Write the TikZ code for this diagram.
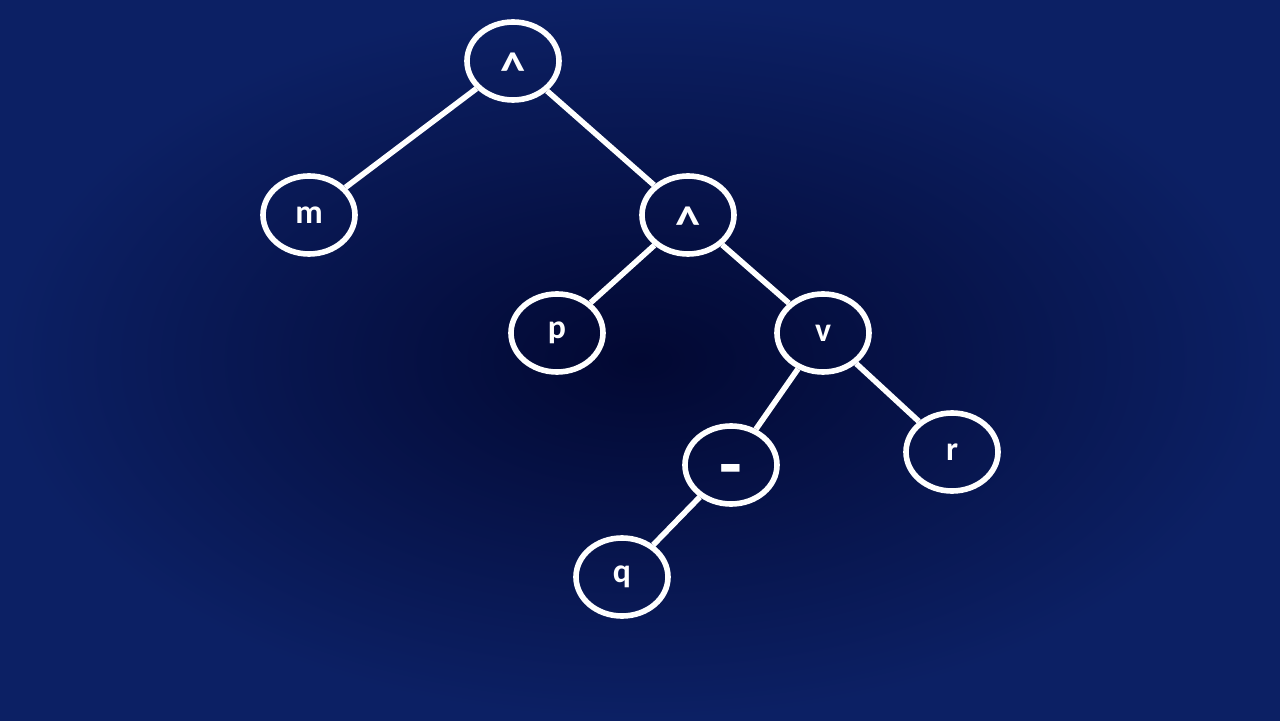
\documentclass[tikz,border=0pt]{standalone}
\usepackage{fontspec}
\setmainfont{Carlito}
\usetikzlibrary{shapes.geometric}
\definecolor{bgin}{RGB}{2,8,50}
\definecolor{bgout}{RGB}{12,32,100}
\newcommand{\opwedge}{\raisebox{-0.8em}[0pt][0pt]{\scalebox{1.5}{\textasciicircum}}}
\begin{document}
\begin{tikzpicture}[line width=4pt,
  leaf/.style={draw=white,ellipse,minimum width=2.3cm,minimum height=1.95cm,
    inner sep=0pt,text=white,font=\fontsize{24}{28}\selectfont\bfseries}]
  % background
  \shade[inner color=bgin,outer color=bgout] (0,0) rectangle (32,18);
  \useasboundingbox (0,0) rectangle (32,18);
  %
  \node[leaf] (top) at (12.825,16.475) {\opwedge};
  \node[leaf] (m) at (7.725,12.625) {m};
  \node[leaf] (and) at (17.2,12.625) {\opwedge};
  \node[leaf] (p) at (13.925,9.675) {p};
  \node[leaf] (or) at (20.575,9.675) {v};
  \node[leaf] (neg) at (18.275,6.375) {\raisebox{-0.72em}[0pt][0pt]{\scalebox{2.2}{-}}};
  \node[leaf] (r) at (23.8,6.7) {r};
  \node[leaf] (q) at (15.55,3.575) {q};
  %
  \draw[white] (top) -- (m);
  \draw[white] (top) -- (and);
  \draw[white] (and) -- (p);
  \draw[white] (and) -- (or);
  \draw[white] (or) -- (neg);
  \draw[white] (or) -- (r);
  \draw[white] (neg) -- (q);
\end{tikzpicture}
\end{document}
